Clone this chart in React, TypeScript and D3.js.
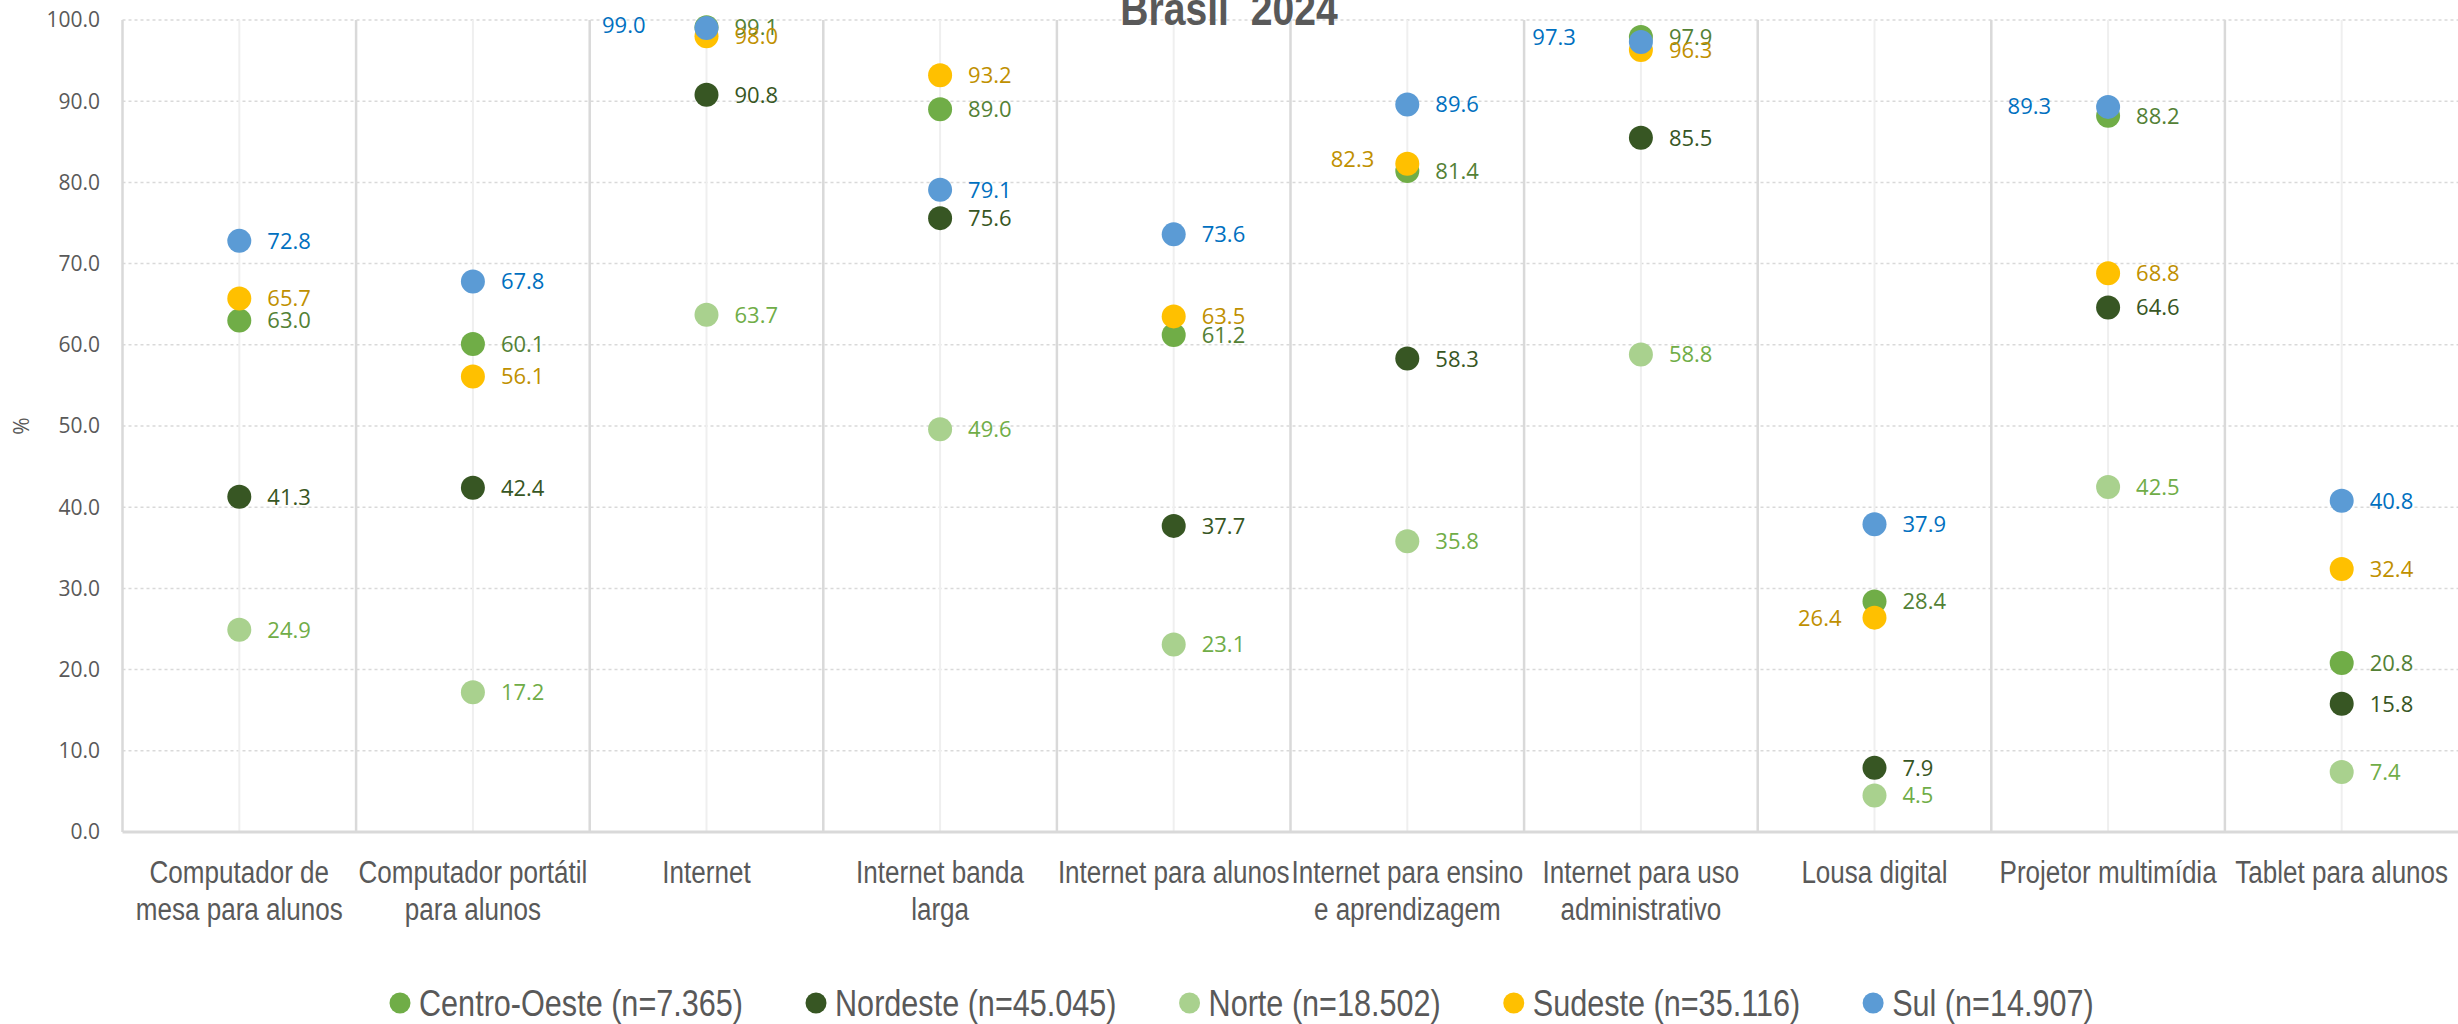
import React, { useEffect, useRef } from "react";
import * as d3 from "d3";

const categoryLines: string[][] = [
  ["Computador de", "mesa para alunos"],
  ["Computador portátil", "para alunos"],
  ["Internet"],
  ["Internet banda", "larga"],
  ["Internet para alunos"],
  ["Internet para ensino", "e aprendizagem"],
  ["Internet para uso", "administrativo"],
  ["Lousa digital"],
  ["Projetor multimídia"],
  ["Tablet para alunos"],
];

const seriesNames = [
  "Centro-Oeste (n=7.365)",
  "Nordeste (n=45.045)",
  "Norte (n=18.502)",
  "Sudeste (n=35.116)",
  "Sul (n=14.907)",
];

const centroOeste = [63.0, 60.1, 99.1, 89.0, 61.2, 81.4, 97.9, 28.4, 88.2, 20.8];
const nordeste = [41.3, 42.4, 90.8, 75.6, 37.7, 58.3, 85.5, 7.9, 64.6, 15.8];
const norte = [24.9, 17.2, 63.7, 49.6, 23.1, 35.8, 58.8, 4.5, 42.5, 7.4];
const sudeste = [65.7, 56.1, 98.0, 93.2, 63.5, 82.3, 96.3, 26.4, 68.8, 32.4];
const sul = [72.8, 67.8, 99.0, 79.1, 73.6, 89.6, 97.3, 37.9, 89.3, 40.8];

const yTicks = [0, 10, 20, 30, 40, 50, 60, 70, 80, 90, 100];

// label placement overrides: [seriesIndex, categoryIndex, rightEdgeOffset, dy]
const leftLabels: [number, number, number, number][] = [
  [4, 2, -61, -3],
  [3, 5, -33, -5],
  [4, 6, -65, -5],
  [3, 7, -33, 0],
  [4, 8, -57, -1],
];

const markerColors = ["#70AD47", "#375623", "#A9D18E", "#FFC000", "#5B9BD5"];
const labelColors = ["#538135", "#375623", "#70AD47", "#BF9000", "#0070C0"];

const W = 2458;
const H = 1024;
const NARROW = "'Liberation Sans', Arial, sans-serif";
const SANS = "'Open Sans', 'Noto Sans', sans-serif";

function narrow(sel: d3.Selection<SVGTextElement, any, any, any>, factor: number) {
  sel.each(function () {
    const w = this.getComputedTextLength();
    d3.select(this)
      .attr("textLength", w * factor)
      .attr("lengthAdjust", "spacingAndGlyphs");
  });
}

export default function App() {
  const ref = useRef<SVGSVGElement>(null);

  useEffect(() => {
    const svg = d3.select(ref.current);
    svg.selectAll("*").remove();
    const series = [centroOeste, nordeste, norte, sudeste, sul];

    const left = 122.5;
    const right = 2458.5;
    const top = 20;
    const bottom = 832;

    const x = d3
      .scaleBand<number>()
      .domain(d3.range(categoryLines.length))
      .range([left, right])
      .paddingInner(0)
      .paddingOuter(0);
    const y = d3.scaleLinear().domain([0, 100]).range([bottom, top]);
    const cxOf = (i: number) => x(i)! + x.bandwidth() / 2;

    svg.append("rect").attr("width", W).attr("height", H).attr("fill", "#ffffff");

    // horizontal gridlines
    svg
      .append("g")
      .selectAll("line")
      .data(yTicks.filter((t) => t > 0))
      .join("line")
      .attr("x1", left)
      .attr("x2", right)
      .attr("y1", (d) => y(d))
      .attr("y2", (d) => y(d))
      .attr("stroke", "#D9D9D9")
      .attr("stroke-width", 1.5)
      .attr("stroke-dasharray", "3,3");

    // category center lines
    svg
      .append("g")
      .selectAll("line")
      .data(d3.range(categoryLines.length))
      .join("line")
      .attr("x1", (d) => cxOf(d))
      .attr("x2", (d) => cxOf(d))
      .attr("y1", top)
      .attr("y2", bottom)
      .attr("stroke", "#EFEFEF")
      .attr("stroke-width", 2);

    // separators
    svg
      .append("g")
      .selectAll("line")
      .data(d3.range(categoryLines.length))
      .join("line")
      .attr("x1", (d) => x(d)!)
      .attr("x2", (d) => x(d)!)
      .attr("y1", top)
      .attr("y2", bottom)
      .attr("stroke", "#D9D9D9")
      .attr("stroke-width", 2.5);

    // x axis line
    svg
      .append("line")
      .attr("x1", left)
      .attr("x2", right)
      .attr("y1", bottom)
      .attr("y2", bottom)
      .attr("stroke", "#D9D9D9")
      .attr("stroke-width", 3);

    // title
    const title = svg
      .append("text")
      .attr("x", 1229)
      .attr("y", 25)
      .attr("text-anchor", "middle")
      .attr("font-family", NARROW)
      .attr("font-weight", "bold")
      .attr("font-size", 46)
      .attr("fill", "#595959")
      .style("white-space", "pre")
      .text("Brasil  2024");
    narrow(title as any, 0.85);

    // y tick labels
    svg
      .append("g")
      .selectAll("text")
      .data(yTicks)
      .join("text")
      .attr("x", 100)
      .attr("y", (d) => y(d))
      .attr("dy", "0.35em")
      .attr("text-anchor", "end")
      .attr("font-family", SANS)
      .attr("font-size", 21)
      .attr("fill", "#595959")
      .text((d) => d3.format(".1f")(d));

    // % label
    svg
      .append("text")
      .attr("transform", `translate(29,${y(50)}) rotate(-90)`)
      .attr("text-anchor", "middle")
      .attr("font-family", SANS)
      .attr("font-size", 21)
      .attr("fill", "#595959")
      .text("%");

    // category labels
    const catData = categoryLines.flatMap((lines, i) => lines.map((line, j) => ({ line, i, j })));
    const cat = svg
      .append("g")
      .selectAll("text")
      .data(catData)
      .join("text")
      .attr("x", (d) => cxOf(d.i))
      .attr("y", (d) => 883 + d.j * 36.5)
      .attr("text-anchor", "middle")
      .attr("font-family", NARROW)
      .attr("font-size", 31)
      .attr("fill", "#595959")
      .text((d) => d.line);
    narrow(cat as any, 0.84);

    // markers & labels
    const override = new Map<string, [number, number]>();
    leftLabels.forEach(([s, c, off, dy]) => override.set(`${s}-${c}`, [off, dy]));

    series.forEach((vals, s) => {
      svg
        .append("g")
        .selectAll("circle")
        .data(vals)
        .join("circle")
        .attr("cx", (_d, i) => cxOf(i))
        .attr("cy", (d) => y(d))
        .attr("r", 12)
        .attr("fill", markerColors[s]);
    });
    series.forEach((vals, s) => {
      svg
        .append("g")
        .selectAll("text")
        .data(vals)
        .join("text")
        .attr("x", (_d, i) => {
          const o = override.get(`${s}-${i}`);
          return o ? cxOf(i) + o[0] : cxOf(i) + 28;
        })
        .attr("y", (d, i) => {
          const o = override.get(`${s}-${i}`);
          return y(d) + (o ? o[1] : 0);
        })
        .attr("dy", "0.36em")
        .attr("text-anchor", (_d, i) => (override.has(`${s}-${i}`) ? "end" : "start"))
        .attr("font-family", SANS)
        .attr("font-size", 22)
        .attr("fill", labelColors[s])
        .text((d) => d3.format(".1f")(d));
    });

    // legend
    const lg = svg.append("g");
    let cx = 400;
    seriesNames.forEach((name, s) => {
      lg.append("circle").attr("cx", cx).attr("cy", 1003).attr("r", 10.5).attr("fill", markerColors[s]);
      const t = lg
        .append("text")
        .attr("x", cx + 19)
        .attr("y", 1015.5)
        .attr("font-family", NARROW)
        .attr("font-size", 36)
        .attr("fill", "#595959")
        .text(name);
      const w0 = (t.node() as SVGTextElement).getComputedTextLength();
      narrow(t as any, 0.85);
      cx = cx + 19 + w0 * 0.85 + 73;
    });
  }, []);

  return (
    <svg
      ref={ref}
      width={W}
      height={H}
      style={{ position: "absolute", left: 0, top: 0, display: "block" }}
    />
  );
}
